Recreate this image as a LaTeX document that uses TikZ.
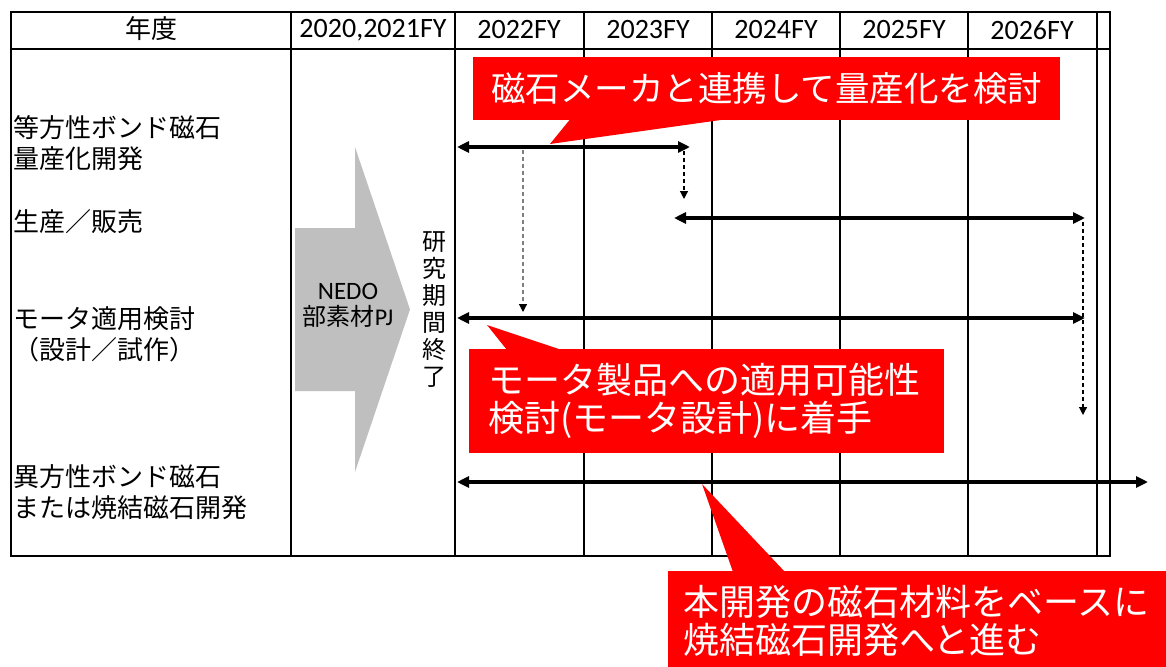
\documentclass[tikz,border=0pt]{standalone}
\usepackage{fontspec}
\setmainfont{Noto Sans CJK JP}
\newfontfamily\calibri{Carlito}
\usepackage{tikz}
\usetikzlibrary{arrows.meta}
\definecolor{rojo}{HTML}{FF0000}
\definecolor{grisflecha}{HTML}{BFBFBF}
\definecolor{grislinea}{HTML}{7F7F7F}

\begin{document}
\begin{tikzpicture}[x=1pt,y=-1pt,grid/.style={line width=1.3pt},hdr/.style={font=\calibri\fontsize{28}{30}\selectfont,inner sep=0pt},lbl/.style={anchor=west,align=left,inner sep=0pt,font=\fontsize{26}{31}\selectfont},callout/.style={fill=rojo,text=white,font=\fontsize{36}{38}\selectfont},dbl/.style={{Triangle[length=12pt,width=11pt]}-{Triangle[length=12pt,width=11pt]},line width=3.8pt},dsh/.style={-{Triangle[length=8pt,width=8pt,color=black]},line width=1.2pt,dash pattern=on 4pt off 3pt}]
\useasboundingbox (0,0) rectangle (1166,666);
\draw[grid] (11,12) rectangle (1110,556); \draw[grid] (11,49) -- (1110,49);
\foreach \cx in {291,455,584,712,840,968,1097} \draw[grid] (\cx,12) -- (\cx,556);
\node[inner sep=0pt,font=\fontsize{26}{28}\selectfont] (nendo) at (151,29) {年度};
\node[hdr] (h2020) at (373,30) {2020,2021FY};
\node[hdr] (h2022) at (519,30) {2022FY};
\node[hdr] (h2023) at (648,30) {2023FY};
\node[hdr] (h2024) at (776,30) {2024FY};
\node[hdr] (h2025) at (904,30) {2025FY};
\node[hdr] (h2026) at (1032,30) {2026FY};
\node[lbl] (isobond) at (13,143) {等方性ボンド磁石\\量産化開発};
\node[lbl] (hanbai) at (13,222) {生産／販売};
\node[lbl] (motor) at (13,334) {モータ適用検討\\（設計／試作）};
\node[lbl] (anibond) at (13,492) {異方性ボンド磁石\\または焼結磁石開発};
\fill[grisflecha] (295,228) -- (355,228) -- (355,147) -- (410,309.5) -- (355,472) -- (355,391) -- (295,391) -- cycle;
\node[align=center,inner sep=0pt,font=\fontsize{24}{26}\selectfont] (nedo) at (348,305) {{\calibri\fontsize{25}{26}\selectfont NEDO}\\部素材{\calibri PJ}};
\node[align=center,inner sep=0pt,font=\fontsize{24}{27}\selectfont] (kenkyu) at (434,310) {研\\究\\期\\間\\終\\了};
\node[callout,anchor=north west,minimum width=587pt,minimum height=63pt,font=\fontsize{34.5}{36}\selectfont] (calla) at (473,57) {磁石メーカと連携して量産化を検討};
\node[callout,anchor=north west,align=left,text width=437pt,inner xsep=19pt,inner ysep=14pt] (callb) at (469,349) {モータ製品への適用可能性\\検討(モータ設計)に着手};
\node[callout,anchor=north west,align=left,text width=480pt,inner xsep=15pt,inner ysep=14pt] (callc) at (668,571) {本開発の磁石材料をベースに\\焼結磁石開発へと進む};
\coordinate (tipa) at (550,144); \coordinate (tipb) at (487,325); \coordinate (tipc) at (702,484);
\fill[rojo] ([xshift=97pt,yshift=1pt]calla.south west) -- (tipa) -- ([xshift=252pt,yshift=1pt]calla.south west) -- cycle;
\fill[rojo] ([xshift=38pt,yshift=-1pt]callb.north west) -- (tipb) -- ([xshift=93pt,yshift=-1pt]callb.north west) -- cycle;
\fill[rojo] ([xshift=65pt,yshift=-1pt]callc.north west) -- (tipc) -- ([xshift=117pt,yshift=-1pt]callc.north west) -- cycle;
\coordinate (r1a) at (457,147); \coordinate (r1b) at (690,147);
\coordinate (r2a) at (674,218); \coordinate (r2b) at (1085,218);
\coordinate (r3a) at (457,318); \coordinate (r3b) at (1085,318);
\coordinate (r4a) at (457,482); \coordinate (r4b) at (1148,482);
\draw[dbl] (r1a) -- (r1b); \draw[dbl] (r2a) -- (r2b); \draw[dbl] (r3a) -- (r3b); \draw[dbl] (r4a) -- (r4b);
\coordinate (d1a) at (684,151); \coordinate (d1b) at (684,199);
\coordinate (d2a) at (523,150); \coordinate (d2b) at (523,312);
\coordinate (d3a) at (1083,222); \coordinate (d3b) at (1083,415);
\draw[dsh] (d1a) -- (d1b); \draw[dsh,draw=grislinea] (d2a) -- (d2b); \draw[dsh] (d3a) -- (d3b);
\end{tikzpicture}
\end{document}
